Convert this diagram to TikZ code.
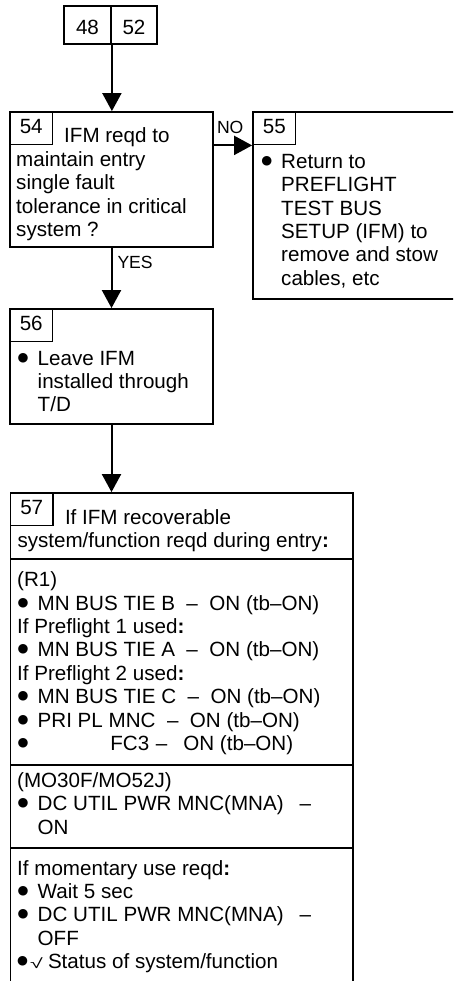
\documentclass[tikz,border=0pt]{standalone}
\usepackage{fontspec}
\setmainfont{Liberation Sans}
\newfontfamily\symfont{DejaVu Sans}
\usetikzlibrary{arrows.meta}
\newcommand\txtfont{\fontsize{20.6pt}{23.4pt}\selectfont}
\newcommand\bulg{\makebox[0pt][c]{\symfont\fontsize{12.5pt}{12.5pt}\selectfont\raisebox{4.0pt}{●}}}
\newcommand\bul{\makebox[20.5pt][l]{\hspace{6pt}\bulg}}
\newcommand\ind{\hspace*{20.5pt}}
\newcommand\chk{\scalebox{1.45}[0.85]{\fontsize{16pt}{16pt}\selectfont √}}
\begin{document}
\begin{tikzpicture}[x=1pt,y=-1pt,
  box/.style={draw, line width=1.8pt, rectangle, inner sep=0pt},
  lbl/.style={draw, line width=1.8pt, rectangle, inner sep=0pt, font=\txtfont,
    text height=14.7pt, text depth=4.7pt, minimum height=32.5pt, minimum width=42.5pt, anchor=north west},
  top/.style={draw, line width=1.8pt, rectangle, inner sep=0pt, font=\txtfont,
    text height=18.3pt, text depth=0pt, minimum height=38.3pt},
  arr/.style={line width=2pt, -{Triangle[length=18pt,width=19pt]}},
  sep/.style={line width=2.3pt},
  txt/.style={anchor=base west, inner sep=0pt, font=\txtfont},
  yn/.style={anchor=base west, inner sep=0pt, font=\fontsize{17.6pt}{20pt}\selectfont}]
\fill[white] (0,0) rectangle (453,981);
\useasboundingbox (0,0) rectangle (453,981);
\clip (0,0) rectangle (453,981);

% top reference boxes
\node[top, minimum width=47pt] (b48) at (87.5,25.15) {48};
\node[top, minimum width=46pt] (b52) at (134,25.15) {52};

% box 54
\node[box, minimum width=203pt, minimum height=135pt] (b54) at (111.5,179.5) {};
\node[lbl] (l54) at (b54.north west) {54};
\node[txt] (t54) at (16,143) {\parbox[t]{200pt}{\txtfont\raggedright
  \hspace*{48pt}IFM reqd to\\maintain entry\\single fault\\tolerance in critical\\system ?}};

% box 55
\node[box, minimum width=227pt, minimum height=187pt] (b55) at (366.5,205.5) {};
\node[lbl] (l55) at (b55.north west) {55};
\node[txt] (t55) at (260.5,168.3) {\parbox[t]{200pt}{\txtfont\raggedright
  \bul Return to\\\ind PREFLIGHT\\\ind TEST BUS\\\ind SETUP (IFM) to\\\ind remove and stow\\\ind cables, etc}};

% box 56
\node[box, minimum width=203pt, minimum height=115pt] (b56) at (111.5,366.5) {};
\node[lbl] (l56) at (b56.north west) {56};
\node[txt] (t56) at (17,365) {\parbox[t]{190pt}{\txtfont\raggedright
  \bul Leave IFM\\\ind installed through\\\ind T/D}};

% box 57
\node[box, minimum width=342.5pt, minimum height=520pt] (b57) at (181.75,753) {};
\node[lbl] (l57) at (b57.north west) {57};
\node[txt] (t57) at (17.3,524) {\parbox[t]{330pt}{\txtfont\raggedright
  \hspace*{47.5pt}If IFM recoverable\\system/function reqd during entry\textbf{:}}};
\draw[sep] (10.5,559.3) -- (353,559.3);
\node[txt] (s1) at (17,586.7) {\parbox[t]{330pt}{\txtfont\raggedright
  (R1)\\
  \bul MN BUS TIE B~~–~~ON (tb–ON)\\
  If Preflight 1 used\textbf{:}\\
  \bul MN BUS TIE A~~–~~ON (tb–ON)\\
  If Preflight 2 used\textbf{:}\\
  \bul MN BUS TIE C~~–~~ON (tb–ON)\\
  \bul PRI PL MNC~~–~~ON (tb–ON)\\
  \bul\hspace*{72.7pt}FC3\hspace{6.6pt}–\hspace{16pt}ON (tb–ON)}};
\draw[sep] (10.5,765) -- (353,765);
\node[txt] (s2) at (17,787.3) {\parbox[t]{330pt}{\txtfont\raggedright
  (MO30F/MO52J)\\
  \bul DC UTIL PWR MNC(MNA)\hspace{16pt}–\\
  \ind ON}};
\draw[sep] (10.5,848.3) -- (353,848.3);
\node[txt] (s3) at (17,875) {\parbox[t]{330pt}{\txtfont\raggedright
  If momentary use reqd\textbf{:}\\
  \bul Wait 5 sec\\
  \bul DC UTIL PWR MNC(MNA)\hspace{16pt}–\\
  \ind OFF\\
  \makebox[13pt][l]{\hspace{5.5pt}\bulg}\makebox[17.8pt][l]{\chk}Status of system/function}};

% connectors
\draw[arr] (b48.south east) -- (b48.south east |- b54.north);
\draw[arr] (b54.east |- l54.south) -- (b55.west |- l54.south);
\node[yn] (no) at (216.8,133.3) {NO};
\draw[arr] (b54.south) -- (b56.north);
\node[yn] (yes) at (117.3,269) {YES};
\draw[arr] (b56.south) -- (b56.south |- b57.north);
\end{tikzpicture}
\end{document}
